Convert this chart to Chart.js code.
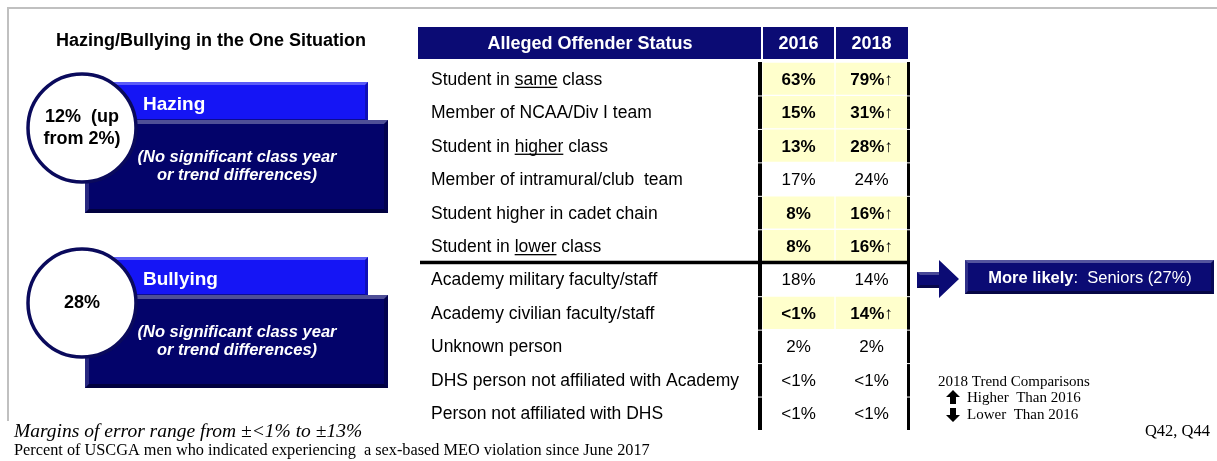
<!DOCTYPE html>
<html>
<head>
<meta charset="utf-8">
<script src="https://cdn.jsdelivr.net/npm/chart.js@4.4.0/dist/chart.umd.min.js"></script>
<style>
  html, body { margin: 0; padding: 0; background: #fff; }
  #wrap { width: 1217px; height: 461px; }
</style>
</head>
<body>
<div id="wrap"><canvas id="slide" width="1217" height="461"></canvas></div>
<script>
// table rows (alleged offender status)
var offenders = [
  "Student in same class",
  "Member of NCAA/Div I team",
  "Student in higher class",
  "Member of intramural/club  team",
  "Student higher in cadet chain",
  "Student in lower class",
  "Academy military faculty/staff",
  "Academy civilian faculty/staff",
  "Unknown person",
  "DHS person not affiliated with Academy",
  "Person not affiliated with DHS"
];
var underlined = ["same", "", "higher", "", "", "lower", "", "", "", "", ""];
var years = ["2016", "2018"];
var values2016 = ["63%", "15%", "13%", "17%", "8%", "8%", "18%", "<1%", "2%", "<1%", "<1%"];
var values2018 = ["79%", "31%", "28%", "24%", "16%", "16%", "14%", "14%", "2%", "<1%", "<1%"];
// rows where 2018 is significantly higher than 2016
var higher2018 = [true, true, true, false, true, true, false, true, false, false, false];

var hazingPct = ["12%  (up", "from 2%)"];
var bullyingPct = ["28%"];
var moreLikely = ["More likely", ":  Seniors (27%)"];

var NAVY = "#0b0b74";
var BOXNAVY = "#03036a";
var BLUE = "#1515f5";
var YELLOW = "#ffffcc";
var SANS = "'Liberation Sans', Arial, sans-serif";
var SERIF = "'Liberation Serif', 'Times New Roman', serif";

function poly(c, pts) {
  c.beginPath();
  c.moveTo(pts[0][0], pts[0][1]);
  for (var i = 1; i < pts.length; i++) c.lineTo(pts[i][0], pts[i][1]);
  c.closePath();
  c.fill();
}

function bevelBox(c, x, y, w, h, fill, b) {
  c.fillStyle = fill;
  c.fillRect(x, y, w, h);
  c.fillStyle = "rgba(255,255,255,0.30)";
  poly(c, [[x, y], [x + w, y], [x + w - b, y + b], [x + b, y + b]]);
  c.fillStyle = "rgba(255,255,255,0.15)";
  poly(c, [[x, y], [x + b, y + b], [x + b, y + h - b], [x, y + h]]);
  c.fillStyle = "rgba(0,0,0,0.40)";
  poly(c, [[x, y + h], [x + b, y + h - b], [x + w - b, y + h - b], [x + w, y + h]]);
  c.fillStyle = "rgba(0,0,0,0.25)";
  poly(c, [[x + w, y], [x + w, y + h], [x + w - b, y + h - b], [x + w - b, y + b]]);
}

function circle(c, cx, cy, r) {
  c.beginPath();
  c.arc(cx, cy, r, 0, Math.PI * 2);
  c.fillStyle = "#fff";
  c.fill();
  c.lineWidth = 3.5;
  c.strokeStyle = "#0a0a5c";
  c.stroke();
}

function situationPanel(c, top, title, pct, boxBottom) {
  bevelBox(c, 110, top, 258, 40, BLUE, 3);
  bevelBox(c, 85, top + 38, 303, boxBottom - top - 38, BOXNAVY, 4);
  c.fillStyle = "#fff";
  c.textAlign = "left";
  c.textBaseline = "middle";
  c.font = "bold 19px " + SANS;
  c.fillText(title, 143, top + 23);
  c.textAlign = "center";
  c.font = "bold italic 16.5px " + SANS;
  var my = top + 38 + (boxBottom - top - 38) / 2;
  c.fillText("(No significant class year", 237, my - 9);
  c.fillText("or trend differences)", 237, my + 9);
  var cy = top + 46;
  circle(c, 82, cy, 54);
  c.fillStyle = "#000";
  c.font = "bold 18px " + SANS;
  for (var i = 0; i < pct.length; i++) {
    c.fillText(pct[i], 82, cy + (i - (pct.length - 1) / 2) * 22);
  }
}

var slidePlugin = {
  id: "slide",
  beforeDraw: function (chart) {
    var c = chart.ctx;
    c.save();
    c.fillStyle = "#fff";
    c.fillRect(0, 0, chart.width, chart.height);
    // slide frame
    c.fillStyle = "#c0c0c0";
    c.fillRect(7, 7, chart.width - 7, 2);
    c.fillRect(7, 7, 2, 414);

    c.fillStyle = "#000";
    c.textAlign = "center";
    c.textBaseline = "middle";
    c.font = "bold 18px " + SANS;
    c.fillText("Hazing/Bullying in the One Situation", 211, 41);

    situationPanel(c, 82, "Hazing", hazingPct, 213);
    situationPanel(c, 257, "Bullying", bullyingPct, 388);
    c.restore();
  },
  afterDatasetsDraw: function (chart) {
    var c = chart.ctx;
    var x = chart.scales.x;
    var y = chart.scales.y;
    var tableLeft = 418;
    var rowH = y.getPixelForValue(1) - y.getPixelForValue(0);
    c.save();

    // header row
    c.fillStyle = NAVY;
    c.fillRect(tableLeft, 27, x.getPixelForValue(0) - tableLeft - 1, 32);
    for (var k = 0; k < years.length; k++) {
      var l = x.getPixelForValue(k) + 1;
      var r = x.getPixelForValue(k + 1) - (k === years.length - 1 ? 0 : 1);
      c.fillRect(l, 27, r - l, 32);
    }
    c.fillStyle = "#fff";
    c.textAlign = "center";
    c.textBaseline = "middle";
    c.font = "bold 18px " + SANS;
    c.fillText("Alleged Offender Status", 590, 44);
    for (k = 0; k < years.length; k++) {
      c.fillText(years[k], x.getPixelForValue(k + 0.5), 44);
    }

    // rows
    for (var i = 0; i < offenders.length; i++) {
      var cy = y.getPixelForValue(i);
      var base = cy + 6;
      c.fillStyle = "#000";
      c.textAlign = "left";
      c.textBaseline = "alphabetic";
      c.font = "17.5px " + SANS;
      c.fillText(offenders[i], 431, base);
      if (underlined[i]) {
        var pos = offenders[i].indexOf(underlined[i]);
        var ux = 431 + c.measureText(offenders[i].slice(0, pos)).width;
        var uw = c.measureText(underlined[i]).width;
        c.fillRect(ux, base + 2, uw, 1.3);
      }
      var bold = higher2018[i];
      c.textAlign = "center";
      c.font = (bold ? "bold " : "") + "17px " + SANS;
      c.fillText(values2016[i], x.getPixelForValue(0.5), base);
      c.fillText(values2018[i] + (bold ? "\u2191" : ""), x.getPixelForValue(1.5), base);

      // thick column rules, broken slightly at row boundaries
      var top = cy - rowH / 2 + (i === 0 ? 0 : 1);
      var bot = cy + rowH / 2;
      c.fillRect(x.getPixelForValue(0) - 4, top, 4, bot - top);
      c.fillRect(x.getPixelForValue(2) - 1, top, 3, bot - top);
    }

    // divider between student and other offenders
    var dy = (y.getPixelForValue(5) + y.getPixelForValue(6)) / 2;
    c.fillStyle = "#000";
    c.fillRect(tableLeft + 2, dy - 2, x.getPixelForValue(2) + 2 - tableLeft - 2, 3.5);

    // arrow and "more likely" box
    c.fillStyle = NAVY;
    poly(c, [[917, 272], [939, 272], [939, 260], [959, 279], [939, 298], [939, 288], [917, 288]]);
    c.fillStyle = "rgba(255,255,255,0.25)";
    poly(c, [[917, 272], [939, 272], [939, 275], [920, 275]]);
    c.fillStyle = "rgba(0,0,0,0.35)";
    poly(c, [[917, 288], [939, 288], [939, 285], [920, 285]]);
    bevelBox(c, 965, 260, 249, 34, NAVY, 3);
    c.fillStyle = "#fff";
    c.textBaseline = "middle";
    c.textAlign = "left";
    c.font = "bold 16.5px " + SANS;
    var w1 = c.measureText(moreLikely[0]).width;
    c.font = "16.5px " + SANS;
    var w2 = c.measureText(moreLikely[1]).width;
    var sx = 1090 - (w1 + w2) / 2;
    c.font = "bold 16.5px " + SANS;
    c.fillText(moreLikely[0], sx, 278);
    c.font = "16.5px " + SANS;
    c.fillText(moreLikely[1], sx + w1, 278);

    // trend legend
    c.fillStyle = "#000";
    c.font = "15px " + SERIF;
    c.fillText("2018 Trend Comparisons", 938, 382);
    c.fillText("Higher  Than 2016", 967, 398);
    c.fillText("Lower  Than 2016", 967, 415);
    poly(c, [[953, 390], [960, 397], [956, 397], [956, 404], [950, 404], [950, 397], [946, 397]]);
    poly(c, [[953, 422], [960, 415], [956, 415], [956, 408], [950, 408], [950, 415], [946, 415]]);
    c.textAlign = "right";
    c.font = "16.5px " + SERIF;
    c.fillText("Q42, Q44", 1210, 432);

    // footnotes
    c.textAlign = "left";
    c.font = "italic 19.5px " + SERIF;
    c.fillText("Margins of error range from \u00b1<1% to \u00b113%", 14, 432);
    c.font = "16.3px " + SERIF;
    c.fillText("Percent of USCGA men who indicated experiencing  a sex-based MEO violation since June 2017", 14, 451);
    c.restore();
  }
};

var cells2016 = higher2018.map(function (s) { return s ? [0, 1] : null; });
var cells2018 = higher2018.map(function (s) { return s ? [1, 2] : null; });

var ctx = document.getElementById("slide");
var slideChart = new Chart(ctx, {
  type: "bar",
  data: {
    labels: offenders,
    datasets: [
      {
        label: years[0],
        data: cells2016,
        backgroundColor: YELLOW,
        borderColor: "#ffffff",
        borderWidth: 1,
        borderSkipped: false,
        grouped: false,
        barPercentage: 1,
        categoryPercentage: 1
      },
      {
        label: years[1],
        data: cells2018,
        backgroundColor: YELLOW,
        borderColor: "#ffffff",
        borderWidth: 1,
        borderSkipped: false,
        grouped: false,
        barPercentage: 1,
        categoryPercentage: 1
      }
    ]
  },
  options: {
    indexAxis: "y",
    responsive: false,
    animation: false,
    devicePixelRatio: 1,
    layout: { padding: { left: 762, right: 309, top: 62, bottom: 31 } },
    scales: {
      x: { type: "linear", min: 0, max: 2, display: false },
      y: { display: false }
    },
    plugins: {
      legend: { display: false },
      tooltip: { enabled: false }
    }
  },
  plugins: [slidePlugin]
});
</script>
</body>
</html>
